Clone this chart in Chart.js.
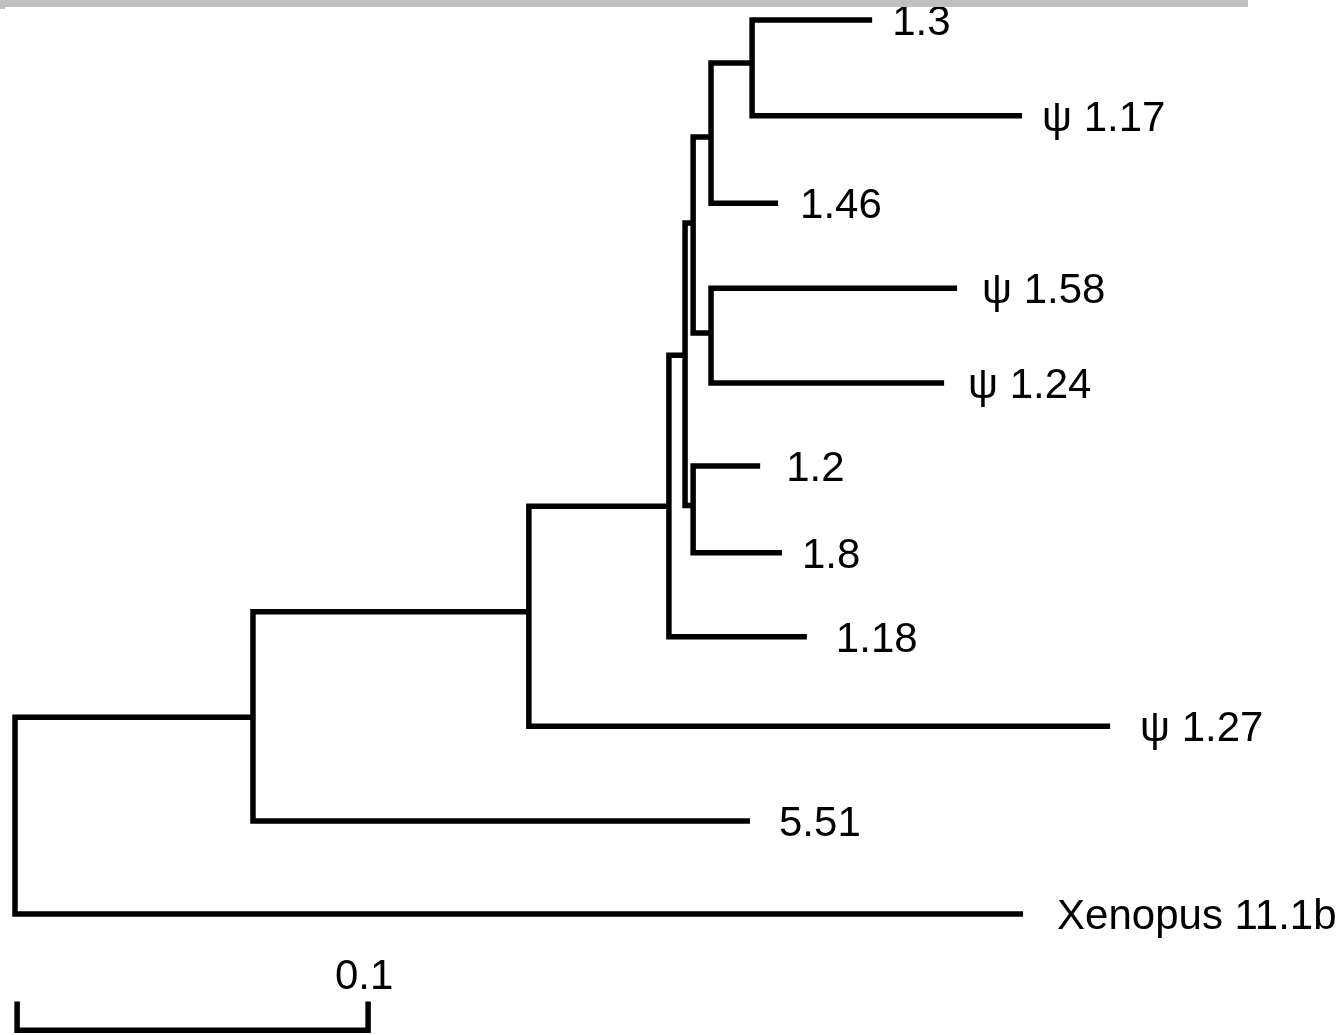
<!DOCTYPE html>
<html>
<head>
<meta charset="utf-8">
<script src="https://cdn.jsdelivr.net/npm/chart.js@4.4.1/dist/chart.umd.min.js"></script>
<style>
  html, body { margin: 0; padding: 0; background: #ffffff; }
  #wrap { width: 1342px; height: 1035px; position: relative; }
  canvas { display: block; }
</style>
</head>
<body>
<div id="wrap"><canvas id="c" width="1342" height="1035"></canvas></div>
<script>
// ---- Tree data (branch distances and row positions) ----
const leafNames = ["1.3", "\u03C8 1.17", "1.46", "\u03C8 1.58", "\u03C8 1.24", "1.2", "1.8", "1.18", "\u03C8 1.27", "5.51", "Xenopus 11.1b"];
const leafDist  = [0.2442, 0.2869, 0.2174, 0.2684, 0.2647, 0.2123, 0.2185, 0.2256, 0.3120, 0.2094, 0.2872];
const leafRow   = [0, 1.07, 2.05, 3.0, 4.06, 4.99, 5.96, 6.90, 7.90, 8.96, 10.0];

const nodeNames       = ["H", "F", "G", "E", "I", "D", "C", "B", "A", "root"];
const nodeDist        = [0.2100, 0.1983, 0.1983, 0.1932, 0.1932, 0.1909, 0.1863, 0.1464, 0.0678, 0];
const nodeRow         = [0.48, 1.31, 3.50, 2.27, 5.43, 3.75, 5.44, 6.62, 7.80, 8.89];
const nodeTopChild    = ["1.3", "H", "\u03C8 1.58", "F", "1.2", "E", "D", "C", "B", "A"];
const nodeBottomChild = ["\u03C8 1.17", "1.46", "\u03C8 1.24", "G", "1.8", "I", "1.18", "\u03C8 1.27", "5.51", "Xenopus 11.1b"];

// scale bar
const scaleBarStart  = [0.0006];
const scaleBarLength = [0.1];
const scaleBarLabel  = ["0.1"];
const scaleBarRows   = [10.98, 11.30]; // tick top, bar base

// ---- styling (pixel gaps between branch tip and label text) ----
const labelGapPx = [20, 20, 22, 25, 24, 26, 20, 29, 30, 29, 34];

// ---- build datasets ----
function pos(name) {
  let i = leafNames.indexOf(name);
  if (i >= 0) return { x: leafDist[i], y: leafRow[i] };
  i = nodeNames.indexOf(name);
  return { x: nodeDist[i], y: nodeRow[i] };
}

const lineStyle = {
  showLine: true, borderColor: '#000000', borderWidth: 5.5, pointRadius: 0,
  pointHoverRadius: 0, tension: 0, fill: false,
  borderJoinStyle: 'miter', borderCapStyle: 'butt', clip: false
};

const datasets = nodeNames.map((n, i) => {
  const a = pos(nodeTopChild[i]);
  const b = pos(nodeBottomChild[i]);
  return Object.assign({
    label: n,
    data: [
      { x: a.x, y: a.y },
      { x: nodeDist[i], y: a.y },
      { x: nodeDist[i], y: b.y },
      { x: b.x, y: b.y }
    ]
  }, lineStyle);
});

datasets.push(Object.assign({
  label: 'scale',
  data: [
    { x: scaleBarStart[0], y: scaleBarRows[0] },
    { x: scaleBarStart[0], y: scaleBarRows[1] },
    { x: scaleBarStart[0] + scaleBarLength[0], y: scaleBarRows[1] },
    { x: scaleBarStart[0] + scaleBarLength[0], y: scaleBarRows[0] }
  ]
}, lineStyle));

const FONT = '42px "Liberation Sans", Arial, Helvetica, sans-serif';

const decor = {
  id: 'decor',
  beforeDraw(chart) {
    const ctx = chart.ctx;
    ctx.save();
    ctx.fillStyle = '#ffffff';
    ctx.fillRect(0, 0, chart.width, chart.height);
    ctx.restore();
  },
  afterDraw(chart) {
    const ctx = chart.ctx;
    const xs = chart.scales.x, ys = chart.scales.y;
    ctx.save();
    ctx.font = FONT;
    ctx.fillStyle = '#000000';
    ctx.textBaseline = 'alphabetic';
    ctx.textAlign = 'left';
    leafNames.forEach((n, i) => {
      const px = xs.getPixelForValue(leafDist[i]) + labelGapPx[i];
      const py = ys.getPixelForValue(leafRow[i]) + 15;
      ctx.fillText(n, px, py);
    });
    ctx.textAlign = 'center';
    ctx.fillText(scaleBarLabel[0],
      xs.getPixelForValue(scaleBarStart[0] + scaleBarLength[0]) - 4,
      ys.getPixelForValue(scaleBarRows[0]) - 13);
    // grey strip along the top edge
    ctx.fillStyle = '#bfbfbf';
    ctx.fillRect(0, 0, 1248, 7);
    ctx.fillRect(0, 7, 5, 2);
    ctx.restore();
  }
};

const PX_PER_UNIT = 3510;
new Chart(document.getElementById('c'), {
  type: 'scatter',
  data: { datasets },
  options: {
    responsive: false,
    animation: false,
    devicePixelRatio: 1,
    layout: { padding: 0 },
    events: [],
    plugins: { legend: { display: false }, tooltip: { enabled: false }, title: { display: false } },
    scales: {
      x: { type: 'linear', display: false, min: -15 / PX_PER_UNIT, max: (1342 - 15) / PX_PER_UNIT },
      y: { type: 'linear', display: false, reverse: true, min: -20 / 89.4, max: (1035 - 20) / 89.4 }
    }
  },
  plugins: [decor]
});
</script>
</body>
</html>
